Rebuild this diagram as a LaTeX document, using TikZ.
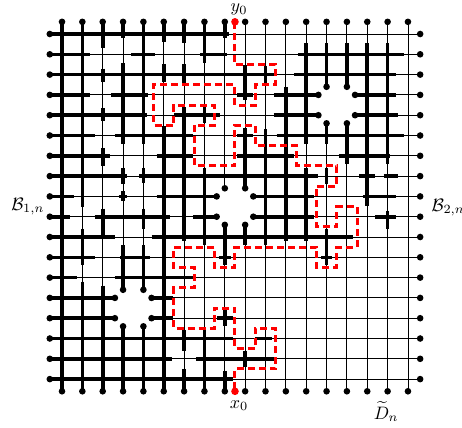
\documentclass[tikz,border=0pt]{standalone}
\usepackage{amsmath,amssymb}
\begin{document}
\begin{tikzpicture}[x=20.35pt,y=-20.3pt,
  thinln/.style={line width=0.9pt,black},
  thickln/.style={line width=3.6pt,black},
  redpath/.style={red,line width=3pt,dash pattern=on 7pt off 4pt},
  lbl/.style={scale=1.8,inner sep=0pt}]
\useasboundingbox (-3.047,-1.675) rectangle (19.656,19.36);
% thin grid
\foreach \i in {0,1,2,5,6,7,10,11,12,15,16,17}{
  \draw[thinln] (\i,-0.6) -- (\i,17.6);
  \draw[thinln] (-0.6,\i) -- (17.6,\i);
}
\foreach \i/\a/\b in {3/12.6/14.4,4/12.6/14.4,8/7.6/9.4,9/7.6/9.4,13/2.6/4.4,14/2.6/4.4}{
  \draw[thinln] (\i,-0.6) -- (\i,\a) (\i,\b) -- (\i,17.6);
  \draw[thinln] (-0.6,\i) -- (\a,\i) (\b,\i) -- (17.6,\i);
}
% thick horizontal pieces
\foreach \j/\a/\b in {0/-0.6/8.2,
 1/-0.6/1.4, 1/3.4/4.57, 1/6.8/8.1, 1/11.6/16.8,
 2/-0.6/10.4, 2/11.4/16.4,
 3/-0.6/1.4, 3/2.4/4.25, 3/8.6/9.4, 3/10.4/12.6, 3/14.4/16.4,
 4/-0.6/4.2, 4/5.5/7.75, 4/10.4/12.6, 4/14.4/16.5,
 5/-0.6/1.6, 5/2.6/6.45, 5/8.6/9.4, 5/10.55/16.8,
 6/-0.6/2.36, 6/4.65/6.45, 6/8.6/11.4, 6/13.6/16.1,
 7/-0.6/3.2, 7/3.8/12.6, 7/14.6/15.4, 7/15.8/16.5,
 8/-0.6/0.6, 8/2.8/3.2, 8/4.65/7.6, 8/9.4/12.4, 8/14.8/16.4,
 9/-0.6/0.4, 9/1.6/5.3, 9/6.45/7.6, 9/9.4/12.4, 9/15.4/16.4,
 10/-0.6/2.6, 10/4.4/14.3,
 11/-0.6/1.6, 11/2.85/4.3, 11/7.7/8.3, 11/12.75/13.25,
 12/-0.6/0.75, 12/2.6/6.45,
 13/-0.6/2.6, 13/4.4/5.45,
 14/-0.6/2.6, 14/4.4/5.45, 14/7.6/8.4,
 15/-0.6/8.4, 15/9.5/10.3,
 16/-0.6/5.4, 16/6.6/10.4,
 17/-0.6/8.4}
 \draw[thickln] (\a,\j) -- (\b,\j);
% thick vertical pieces
\foreach \i/\a/\b in {0/-0.6/17.6,
 1/-0.6/8.5, 1/9.6/11.4, 1/12.2/17.6,
 2/-0.6/0.7, 2/1.7/2.35, 2/3.66/4.3, 2/5.63/6.5, 2/8.6/10.1, 2/12.4/17.6,
 3/-0.6/0.2, 3/1.45/5.4, 3/6.6/7.4, 3/7.75/8.25, 3/10.4/12.6, 3/14.4/17.6,
 4/-0.6/5.4, 4/6.6/7.35, 4/8.6/9.6, 4/10.4/12.6, 4/14.4/17.6,
 5/-0.6/0.4, 5/1.5/2.35, 5/4.55/17.6,
 6/-0.6/0.45, 6/1.5/2.4, 6/3.6/10.2, 6/14.6/15.6, 6/16.5/17.6,
 7/-0.6/1.45, 7/3.6/4.4, 7/6.6/10.4, 7/14.6/17.6,
 8/-0.6/0.2, 8/9.4/11.4, 8/13.6/14.4, 8/16.6/17.6,
 9/1.55/3.25, 9/4.65/7.6, 9/9.4/10.4, 9/15.6/16.4,
 10/1.6/2.4, 10/4.7/10.4,
 11/2.6/10.2,
 12/0.45/5.4, 12/6.6/10.2,
 13/0.45/2.6, 13/4.4/5.4, 13/6.6/7.4, 13/9.6/11.4,
 14/0.45/2.6, 14/4.4/6.4,
 15/0.45/8.45,
 16/0.45/6.4, 16/8.7/9.6}
 \draw[thickln] (\i,\a) -- (\i,\b);
% boundary dots
\foreach \i in {0,...,17}{
  \fill (\i,-0.6) circle (3.3pt);
  \fill (\i,17.6) circle (3.3pt);
  \fill (-0.6,\i) circle (3.3pt);
  \fill (17.6,\i) circle (3.3pt);
}
% hole dots
\foreach \p in {(3,12.6),(4,12.6),(3,14.4),(4,14.4),(2.6,13),(2.6,14),(4.4,13),(4.4,14),
  (8,7.6),(9,7.6),(8,9.4),(9,9.4),(7.6,8),(7.6,9),(9.4,8),(9.4,9),
  (13,2.6),(14,2.6),(13,4.4),(14,4.4),(12.6,3),(12.6,4),(14.4,3),(14.4,4)}
  \fill \p circle (3.3pt);
% exploration path
\draw[redpath] (8.5,-0.6) -- (8.5,1.5) -- (10.5,1.5) -- (10.5,2.5) -- (9.5,2.5) -- (9.5,3.5)
 -- (8.5,3.5) -- (8.5,2.5) -- (4.5,2.5) -- (4.5,4.5) -- (5.5,4.5) -- (5.5,3.5) -- (7.5,3.5)
 -- (7.5,4.5) -- (6.5,4.5) -- (6.5,6.5) -- (8.5,6.5) -- (8.5,4.5) -- (9.5,4.5) -- (9.5,5.5)
 -- (11.5,5.5) -- (11.5,6.5) -- (13.5,6.5) -- (13.5,7.5) -- (12.5,7.5) -- (12.5,9.5)
 -- (13.5,9.5) -- (13.5,8.5) -- (14.5,8.5) -- (14.5,10.5) -- (13.5,10.5) -- (13.5,11.5)
 -- (12.5,11.5) -- (12.5,10.5) -- (8.5,10.5) -- (8.5,11.5) -- (7.5,11.5) -- (7.5,10.5)
 -- (5.5,10.5) -- (5.5,11.5) -- (6.5,11.5) -- (6.5,12.5) -- (5.5,12.5) -- (5.5,14.5)
 -- (7.5,14.5) -- (7.5,13.5) -- (8.5,13.5) -- (8.5,15.5) -- (9.5,15.5) -- (9.5,14.5)
 -- (10.5,14.5) -- (10.5,16.5) -- (8.5,16.5) -- (8.5,17.6);
\fill[red] (8.5,-0.6) circle (3.8pt);
\fill[red] (8.5,17.6) circle (3.8pt);
% labels
\node[lbl] (y0) at (8.7,-1.22) {$y_0$};
\node[lbl] (x0) at (8.7,18.3) {$x_0$};
\node[lbl,anchor=east] (B1) at (-0.85,8.5) {$\mathcal{B}_{1,n}$};
\node[lbl,anchor=west] (B2) at (18.15,8.55) {$\mathcal{B}_{2,n}$};
\node[lbl] (Dn) at (15.93,18.6) {$\widetilde{D}_n$};
\end{tikzpicture}
\end{document}
